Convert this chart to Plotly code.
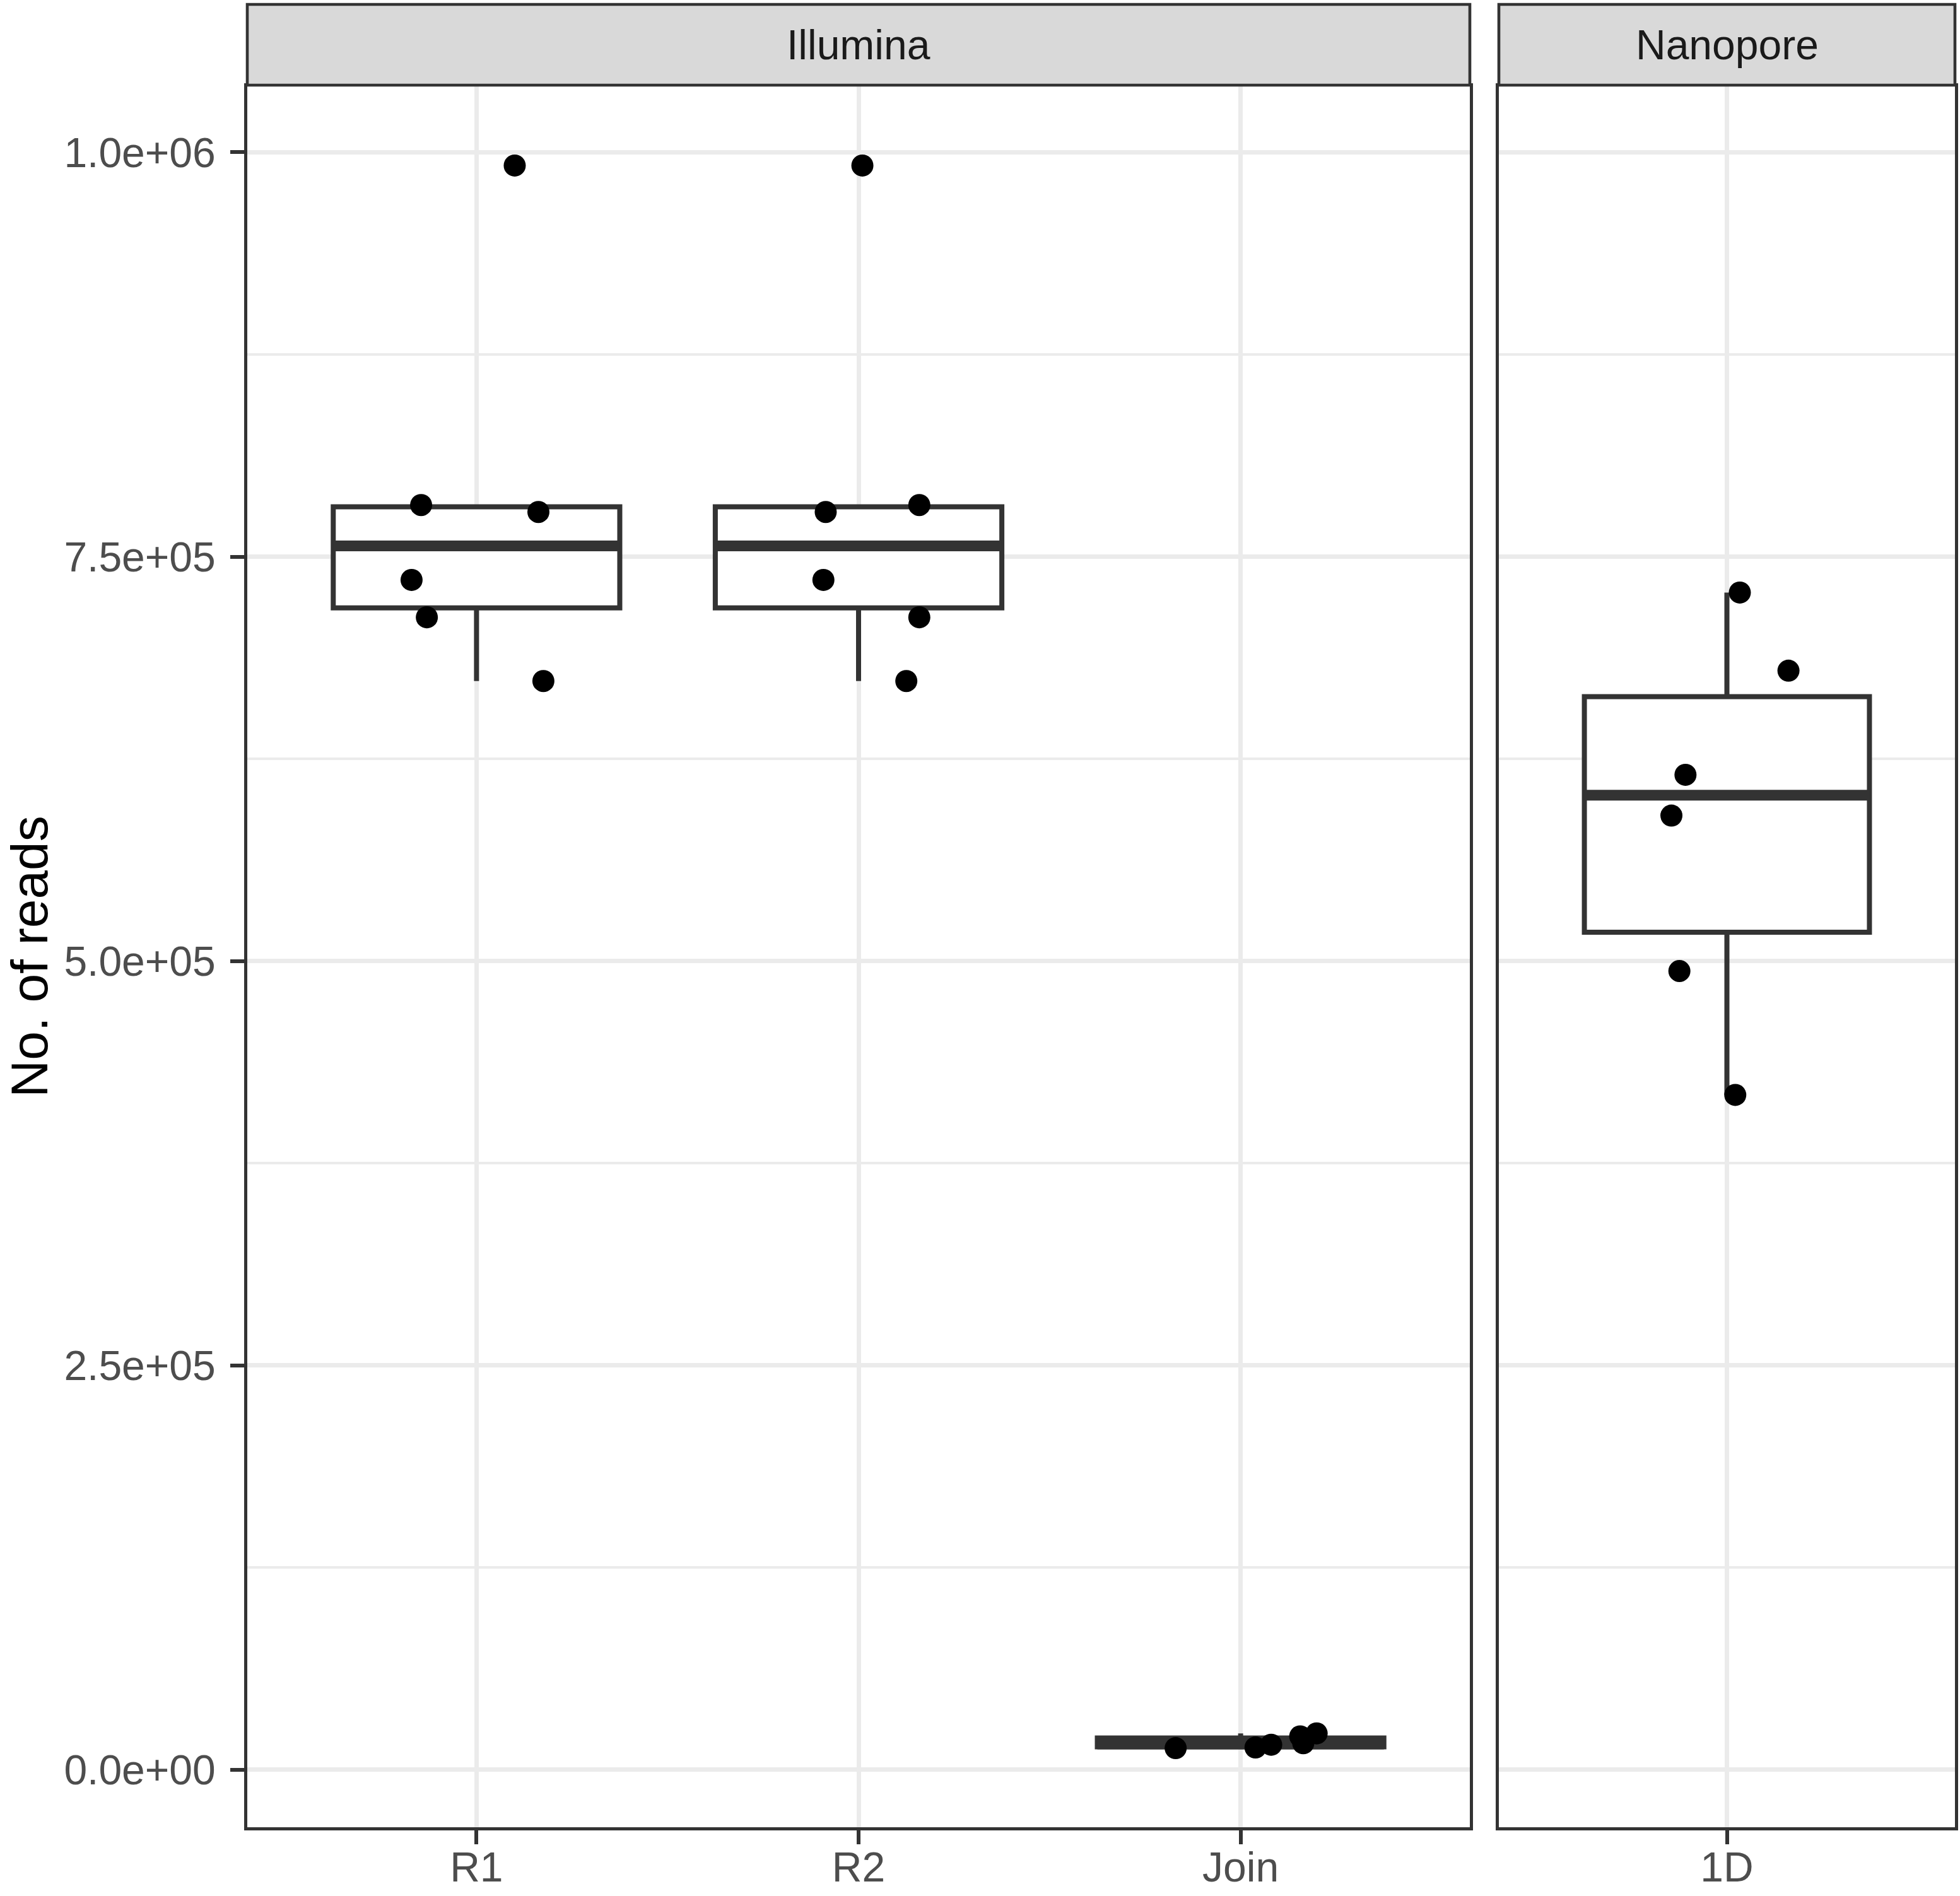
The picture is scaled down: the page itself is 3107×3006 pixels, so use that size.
import numpy as np
import plotly.graph_objects as go

W, H = 3107, 3006

# ---------------- data ----------------
illumina_categories = ["R1", "R2", "Join"]
nanopore_categories = ["1D"]
facet_labels = ["Illumina", "Nanopore"]

r1_reads = [991800, 781900, 777600, 735600, 712500, 673100]
r1_jitter = [0.10, -0.145, 0.162, -0.170, -0.130, 0.175]
r2_reads = [991800, 777600, 781900, 735600, 712500, 673100]
r2_jitter = [0.01, -0.086, 0.159, -0.092, 0.159, 0.125]
join_reads = [13350, 13740, 15450, 20630, 16350, 22460]
join_jitter = [-0.170, 0.039, 0.080, 0.156, 0.164, 0.199]
d1_reads = [727800, 679500, 615100, 589900, 493800, 417200]
d1_jitter = [0.034, 0.162, -0.109, -0.146, -0.125, 0.022]

y_tick_values = [0, 250000, 500000, 750000, 1000000]
y_tick_labels = ["0.0e+00", "2.5e+05", "5.0e+05", "7.5e+05", "1.0e+06"]
y_minor_values = [125000, 375000, 625000, 875000]
y_title = "No. of reads"

# ---------------- style ----------------
FONT = "Liberation Sans, Arial, Helvetica, sans-serif"
DARK = "#333333"
GRID = "#EBEBEB"
BOX_W = 0.75
BOX_LW = 8
MED_LW = 17
PT_SIZE = 35


def box_stats(values):
    v = np.asarray(values, dtype=float)
    q1, med, q3 = np.percentile(v, [25, 50, 75])
    iqr = q3 - q1
    lo = v[v >= q1 - 1.5 * iqr].min()
    hi = v[v <= q3 + 1.5 * iqr].max()
    return q1, med, q3, lo, hi


fig = go.Figure()

groups = [
    ("x", "y", 1, r1_reads, r1_jitter),
    ("x", "y", 2, r2_reads, r2_jitter),
    ("x", "y", 3, join_reads, join_jitter),
    ("x2", "y2", 1, d1_reads, d1_jitter),
]

for xa, ya, pos, reads, jit in groups:
    q1, med, q3, lo, hi = box_stats(reads)
    fig.add_trace(go.Box(
        x=[pos], q1=[q1], median=[med], q3=[q3], lowerfence=[lo], upperfence=[hi],
        width=BOX_W, fillcolor="white", line=dict(color=DARK, width=BOX_LW),
        whiskerwidth=0, boxpoints=False, xaxis=xa, yaxis=ya,
        showlegend=False, hoverinfo="skip"))
    fig.add_trace(go.Scatter(
        x=[pos - BOX_W / 2, pos + BOX_W / 2], y=[med, med], mode="lines",
        line=dict(color=DARK, width=MED_LW), xaxis=xa, yaxis=ya,
        showlegend=False, hoverinfo="skip"))

for xa, ya, pos, reads, jit in groups:
    fig.add_trace(go.Scatter(
        x=[pos + j for j in jit], y=reads, mode="markers",
        marker=dict(color="black", size=PT_SIZE, line=dict(width=0)),
        xaxis=xa, yaxis=ya, showlegend=False, hoverinfo="skip"))

all_vals = r1_reads + r2_reads + join_reads + d1_reads
lo_v, hi_v = min(all_vals), max(all_vals)
pad = 0.05 * (hi_v - lo_v)
y_range = [lo_v - pad, hi_v + pad]

x1_dom = [392 / W, 2330 / W]
x2_dom = [2376 / W, 3099 / W]
y_dom = [1 - 2897 / H, 1 - 137 / H]

common_x = dict(
    showgrid=True, gridcolor=GRID, gridwidth=7, zeroline=False,
    showline=True, mirror=True, linecolor=DARK, linewidth=5,
    ticks="outside", ticklen=22, tickwidth=6, tickcolor=DARK,
    tickfont=dict(family=FONT, size=66, color="#4D4D4D"),
    ticklabelstandoff=-20, fixedrange=True, automargin=False,
)
common_y = dict(
    range=y_range, showgrid=True, gridcolor=GRID, gridwidth=7, zeroline=False,
    showline=True, mirror=True, linecolor=DARK, linewidth=5,
    tickmode="array", tickvals=y_tick_values, ticktext=y_tick_labels,
    minor=dict(tickmode="array", tickvals=y_minor_values, showgrid=True,
               gridcolor=GRID, gridwidth=3.5, ticks=""),
    domain=y_dom, fixedrange=True, automargin=False,
)

fig.update_layout(
    width=W, height=H,
    margin=dict(l=0, r=0, t=0, b=0, pad=0),
    paper_bgcolor="white", plot_bgcolor="white",
    boxmode="overlay",
    xaxis=dict(domain=x1_dom, range=[0.4, 3.6], tickmode="array",
               tickvals=[1, 2, 3], ticktext=illumina_categories,
               anchor="y", **common_x),
    xaxis2=dict(domain=x2_dom, range=[0.4, 1.6], tickmode="array",
                tickvals=[1], ticktext=nanopore_categories,
                anchor="y2", **common_x),
    yaxis=dict(anchor="x", ticks="outside", ticklen=22, tickwidth=6, tickcolor=DARK,
               tickfont=dict(family=FONT, size=66, color="#4D4D4D"),
               ticklabelstandoff=10, **common_y),
    yaxis2=dict(anchor="x2", matches="y", showticklabels=False, ticks="", **common_y),
)

# facet strips
strip_top = 1 - 7 / H
strip_bot = 1 - 135 / H
for dom, label in zip([x1_dom, x2_dom], facet_labels):
    fig.add_shape(type="rect", xref="paper", yref="paper",
                  x0=dom[0], x1=dom[1], y0=strip_bot, y1=strip_top,
                  fillcolor="#D9D9D9", line=dict(color=DARK, width=4.6), layer="above")
    fig.add_annotation(xref="paper", yref="paper", x=(dom[0] + dom[1]) / 2,
                       y=(strip_top + strip_bot) / 2, text=label, showarrow=False,
                       xanchor="center", yanchor="middle",
                       font=dict(family=FONT, size=66, color="#1A1A1A"))

# y axis title
fig.add_annotation(xref="paper", yref="paper", x=46 / W, y=(y_dom[0] + y_dom[1]) / 2,
                   text=y_title, textangle=-90, showarrow=False,
                   xanchor="center", yanchor="middle",
                   font=dict(family=FONT, size=82, color="black"))

fig.write_html(
    "out.html",
    config={"displayModeBar": False},
    post_script="document.body.style.margin='0';document.body.style.overflow='hidden';",
)
